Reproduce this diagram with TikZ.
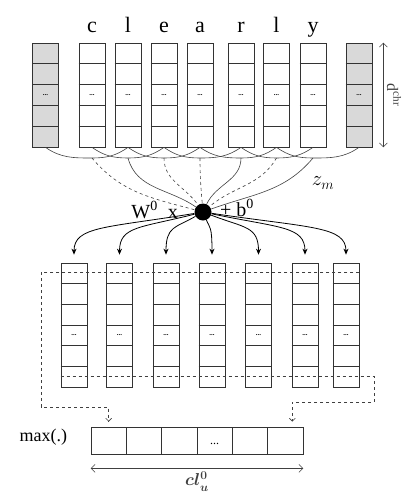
\documentclass[tikz,border=0pt]{standalone}
\usepackage{fontspec}
\setmainfont{Liberation Serif}
\usepackage{amsmath}
\usetikzlibrary{positioning, calc, arrows.meta}

\begin{document}
\begin{tikzpicture}[x=1pt, y=-1pt,
  col/.style={draw=black!80, line width=0.7pt, minimum width=26pt, inner sep=0pt},
  pad/.style={col, fill=black!15},
  cell/.style={draw=black!80, line width=0.7pt, minimum width=35.33pt, minimum height=27pt, inner sep=0pt},
  cdots/.style={font=\fontsize{7}{7}\selectfont\bfseries, inner sep=0pt},
  letter/.style={font=\fontsize{22}{24}\selectfont, anchor=base},
  lbl/.style={font=\fontsize{20}{22}\selectfont, inner sep=0pt},
  wire/.style={black!75, line width=0.6pt},
  arr/.style={black, line width=0.8pt, -{Stealth[length=6pt, width=5pt, inset=2pt]}, shorten >=8pt},
  pool/.style={black!75, line width=0.6pt, dashed, -{Straight Barb[length=3pt]}, shorten >=5pt},
  dim/.style={black!75, line width=0.6pt, {Straight Barb[length=4pt]}-{Straight Barb[length=4pt]}}]

  \useasboundingbox (0,0) rectangle (417,493);

  \foreach \x/\s [count=\k from 0] in {45.5/pad,92/col,128/col,164/col,200/col,241/col,276.5/col,313/col,359/pad} {
    \node[\s, minimum height=104pt] (t\k) at (\x,95) {};
    \foreach \i in {1,...,4}
      \draw[black!80, line width=0.7pt] ($(t\k.north west)!\i/5!(t\k.south west)$) -- ($(t\k.north east)!\i/5!(t\k.south east)$);
    \node[cdots] at (t\k) {...};
  }
  \foreach \l [count=\k] in {c,l,e,a,r,l,y}
    \node[letter] (ch\k) at ([yshift=10pt]t\k.north) {\l};

  \coordinate (d1) at ([xshift=11pt]t8.north east);
  \coordinate (d2) at ([xshift=11pt]t8.south east);
  \draw[dim] (d1) -- node[rotate=-90, anchor=south, font=\fontsize{16}{18}\selectfont] {d\textsuperscript{chr}} (d2);

  \node[circle, fill=black, minimum size=17pt, inner sep=0pt] (dot) at (203,212) {};
  \node[lbl, anchor=east] (wx) at (178,210) {W\textsuperscript{0}\ \ x};
  \node[lbl, anchor=west] (bias) at (220,208) {+ b\textsuperscript{0}};

  \foreach \x [count=\k] in {92,128,164,200,241,276.5,313}
    \coordinate (m\k) at (\x,158);
  \foreach \k in {1,...,7} {
    \pgfmathtruncatemacro\a{\k-1}
    \pgfmathtruncatemacro\b{\k+1}
    \draw[wire] (t\a.south) to[out=-35, in=180] (m\k) to[out=0, in=-145] (t\b.south);
  }
  \foreach \k/\s/\o/\i in {1/dashed/-50/165, 2/solid/-75/145, 3/dashed/-90/125, 4/dashed/-90/95, 5/solid/-90/65, 6/dashed/-120/40, 7/solid/-130/20}
    \draw[wire, \s] (m\k) to[out=\o, in=\i] (dot);
  \node[lbl] (zm) at (323,183) {$z_m$};

  \foreach \x [count=\k] in {74,119.5,166,212,258.5,305,346} {
    \node[col, minimum height=124pt] (b\k) at (\x,325) {};
    \foreach \i in {1,...,5}
      \draw[black!80, line width=0.7pt] ($(b\k.north west)!\i/6!(b\k.south west)$) -- ($(b\k.north east)!\i/6!(b\k.south east)$);
    \node[cdots] at ($(b\k.north)!3.5/6!(b\k.south)$) {...};
    \draw[arr] (dot) .. controls ({203+0.75*(\x-203)},228) and (\x,226) .. (b\k.north);
  }

  \foreach \i in {1,...,6}
    \node[cell] (r\i) at ({91+35.33*(\i-0.5)},440.5) {};
  \node[font=\fontsize{12}{12}\selectfont, yshift=-3pt] at (r4) {...};
  \node[font=\fontsize{18}{20}\selectfont, left=20pt of r1, yshift=3pt] (max) {max(.)};

  \coordinate (pa) at ([yshift=-10pt]b7.north east);
  \coordinate (pb) at (41,407);
  \draw[pool] (pa) -- (pa -| pb) -- (pb) -| (r1.north);
  \coordinate (qa) at ([yshift=11pt]b1.south west);
  \coordinate (qb) at (374,402);
  \draw[pool] (qa) -- (qa -| qb) -- (qb) -| ([xshift=7pt]r6.north);

  \coordinate (c1) at ([yshift=-14pt]r1.south west);
  \coordinate (c2) at ([yshift=-14pt]r6.south east);
  \draw[dim] (c1) -- node[below=0pt, font=\fontsize{18}{20}\selectfont] {$\boldsymbol{cl_u^0}$} (c2);
\end{tikzpicture}
\end{document}
